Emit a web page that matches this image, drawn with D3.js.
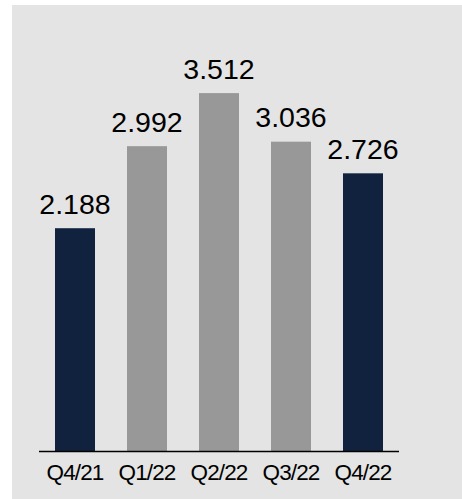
<!DOCTYPE html>
<html>
<head>
<meta charset="utf-8">
<script src="https://cdn.jsdelivr.net/npm/d3@7"></script>
<style>
  html, body { margin: 0; padding: 0; background: #ffffff; }
  svg { display: block; }
</style>
</head>
<body>
<svg id="chart" width="462" height="499"></svg>
<script>
// Quarterly figures
const quarters = ["Q4/21", "Q1/22", "Q2/22", "Q3/22", "Q4/22"];
const values = [2.188, 2.992, 3.512, 3.036, 2.726];
const highlighted = ["Q4/21", "Q4/22"];

const svg = d3.select("#chart");
const W = 462, H = 499;

// panel background
svg.append("rect")
  .attr("x", 12).attr("y", 5)
  .attr("width", W - 12).attr("height", H - 5)
  .attr("fill", "#e4e4e4");

const x = d3.scaleBand()
  .domain(quarters)
  .range([39, 399])
  .paddingInner(32 / 72)
  .paddingOuter(16 / 72);

const baseY = 451.5;
const y = d3.scaleLinear()
  .domain([0, 4])
  .range([baseY, baseY - 408.2]);

const fmt = d3.format(".3f");

svg.append("g")
  .selectAll("rect")
  .data(quarters)
  .join("rect")
  .attr("x", d => x(d))
  .attr("width", x.bandwidth())
  .attr("y", (d, i) => y(values[i]))
  .attr("height", (d, i) => y(0) - y(values[i]))
  .attr("fill", d => highlighted.includes(d) ? "#11223f" : "#989898");

svg.append("g")
  .selectAll("text")
  .data(quarters)
  .join("text")
  .attr("x", d => x(d) + x.bandwidth() / 2)
  .attr("y", (d, i) => y(values[i]) - 14.5)
  .attr("text-anchor", "middle")
  .attr("font-family", "Liberation Sans, Arial, sans-serif")
  .attr("font-size", 28.5)
  .attr("fill", "#000")
  .text((d, i) => fmt(values[i]));

// category axis
const axis = svg.append("g")
  .attr("transform", `translate(0,${baseY})`)
  .call(d3.axisBottom(x).tickSize(0).tickPadding(0));
axis.select(".domain")
  .attr("d", "M39,0H399")
  .attr("stroke", "#000")
  .attr("stroke-width", 1.6);
axis.selectAll(".tick text")
  .attr("dy", null)
  .attr("y", 28.5)
  .attr("font-family", "Liberation Sans, Arial, sans-serif")
  .attr("font-size", 22.5)
  .attr("letter-spacing", -0.9)
  .attr("fill", "#000");
</script>
</body>
</html>
